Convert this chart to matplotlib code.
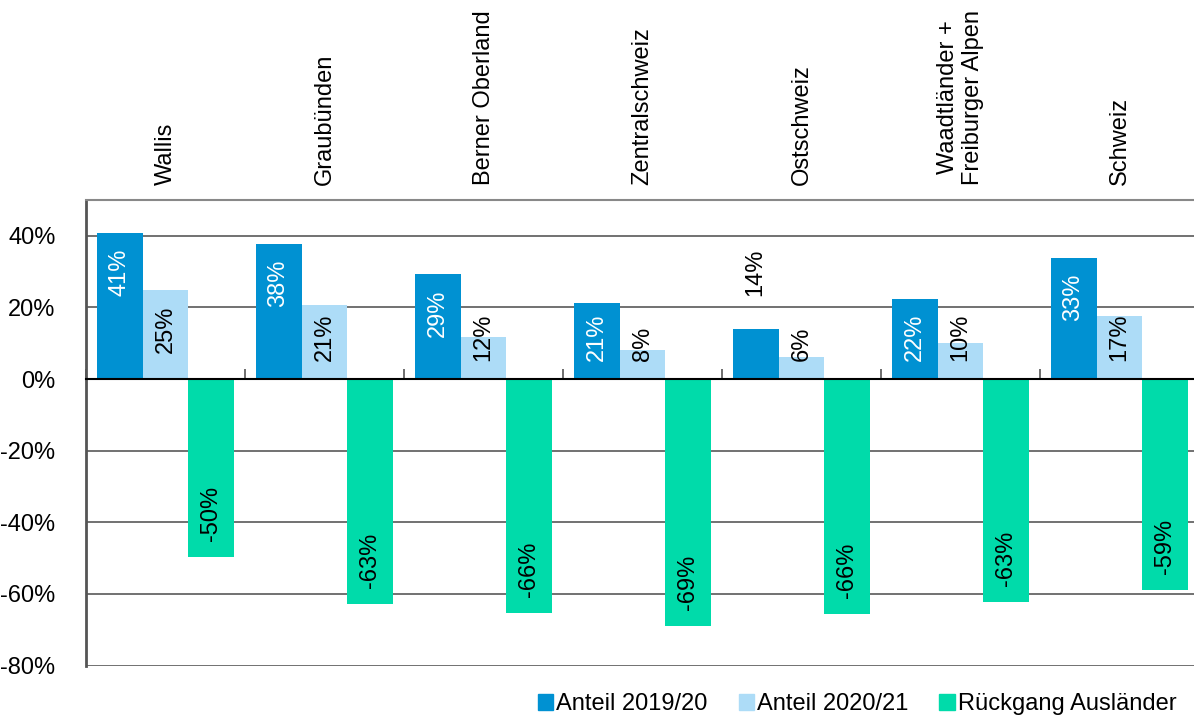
import matplotlib
matplotlib.use("Agg")
import matplotlib.pyplot as plt
from matplotlib.patches import Patch
from matplotlib.ticker import FixedLocator
import numpy as np

plt.rcParams['font.family'] = ['Liberation Sans', 'DejaVu Sans']

categories = ["Wallis", "Graubünden", "Berner Oberland", "Zentralschweiz",
              "Ostschweiz", "Waadtländer +\nFreiburger Alpen", "Schweiz"]
anteil_1920 = [40.8, 37.8, 29.4, 21.3, 14.0, 22.4, 33.8]
anteil_2021 = [24.9, 20.7, 11.7, 8.1, 6.1, 10.0, 17.6]
rueckgang = [-49.8, -62.7, -65.2, -69.1, -65.7, -62.4, -59.0]
labels_1920 = ["41%", "38%", "29%", "21%", "14%", "22%", "33%"]
labels_2021 = ["25%", "21%", "12%", "8%", "6%", "10%", "17%"]
labels_rg = ["-50%", "-63%", "-66%", "-69%", "-66%", "-63%", "-59%"]
series_names = ["Anteil 2019/20", "Anteil 2020/21", "Rückgang Ausländer"]
yticks = [-80, -60, -40, -20, 0, 20, 40]
ytick_labels = ["-80%", "-60%", "-40%", "-20%", "0%", "20%", "40%"]

c_dark = "#0091D2"
c_light = "#ADDCF7"
c_green = "#00DBAA"

W, H = 1194, 718
fig = plt.figure(figsize=(W / 100, H / 100), dpi=100)
ax = fig.add_axes([86 / W, (H - 665.5) / H, (1199 - 86) / W, 465.5 / H])
ax.set_xlim(-0.5, len(categories) - 0.5)
ax.set_ylim(-80, 50)

x = np.arange(len(categories))
bw = 0.289
fs = 17

ax.bar(x - bw, anteil_1920, bw, color=c_dark, zorder=2)
ax.bar(x, anteil_2021, bw, color=c_light, zorder=2)
ax.bar(x + bw, rueckgang, bw, color=c_green, zorder=2)

# grid
ax.set_yticks(yticks)
ax.set_yticklabels(ytick_labels, fontsize=fs)
ax.yaxis.grid(True, color="#4a4a4a", linewidth=1.1, zorder=0)
ax.set_axisbelow(True)
ax.tick_params(axis='y', length=0, pad=22)

ax.spines['right'].set_visible(False)
ax.spines['top'].set_color("#888888")
ax.spines['top'].set_linewidth(1.5)
ax.spines['left'].set_color("#555555")
ax.spines['left'].set_linewidth(2)
ax.spines['bottom'].set_position(('data', 0))
ax.spines['bottom'].set_color("black")
ax.spines['bottom'].set_linewidth(1.5)
ax.spines['bottom'].set_zorder(3)
ax.xaxis.set_major_locator(FixedLocator(list(np.arange(len(categories) + 1) - 0.5)))
ax.set_xticklabels([])
ax.tick_params(axis='x', direction='in', length=7, width=1.2, color="#555555")

# category labels on top
for xi, cat in zip(x, categories):
    ax.annotate(cat, xy=(xi, 50), xytext=(0, 15), textcoords='offset pixels',
                rotation=90, ha='center', va='bottom', fontsize=fs,
                multialignment='center', annotation_clip=False)

renderer = fig.canvas.get_renderer()
px_per_unit = ax.transData.transform((0, 1))[1] - ax.transData.transform((0, 0))[1]


def text_len_px(s):
    t = fig.text(0, 0, s, fontsize=fs, rotation=90)
    h = t.get_window_extent(renderer).height
    t.remove()
    return h


def pos_label(xc, val, s, color, allow_outside):
    L = text_len_px(s)
    bar_px = val * px_per_unit
    top_off = 16
    if bar_px - top_off - L >= 18:
        ax.annotate(s, xy=(xc, val), xytext=(0, -top_off), textcoords='offset pixels',
                    rotation=90, ha='center', va='top', fontsize=fs, color=color, zorder=4)
    elif allow_outside and bar_px < L + 18:
        ax.annotate(s, xy=(xc, val), xytext=(0, 33), textcoords='offset pixels',
                    rotation=90, ha='center', va='bottom', fontsize=fs, color='black', zorder=4)
    else:
        ax.annotate(s, xy=(xc, 0), xytext=(0, 18), textcoords='offset pixels',
                    rotation=90, ha='center', va='bottom', fontsize=fs, color=color, zorder=4)


for xi, v, s in zip(x, anteil_1920, labels_1920):
    pos_label(xi - bw, v, s, 'white', True)
for xi, v, s in zip(x, anteil_2021, labels_2021):
    pos_label(xi, v, s, 'black', False)
for xi, v, s in zip(x, rueckgang, labels_rg):
    ax.annotate(s, xy=(xi + bw, v), xytext=(0, 16), textcoords='offset pixels',
                rotation=90, ha='center', va='bottom', fontsize=fs, color='black', zorder=4)

handles = [Patch(color=c_dark), Patch(color=c_light), Patch(color=c_green)]
fig.legend(handles, series_names, loc='center right',
           bbox_to_anchor=(1177 / W, 1 - 704 / H), ncol=3, frameon=False,
           fontsize=fs, handlelength=0.65, handleheight=0.65,
           handletextpad=0.15, columnspacing=1.3, borderpad=0, borderaxespad=0)

fig.savefig("out.png", dpi=100)
